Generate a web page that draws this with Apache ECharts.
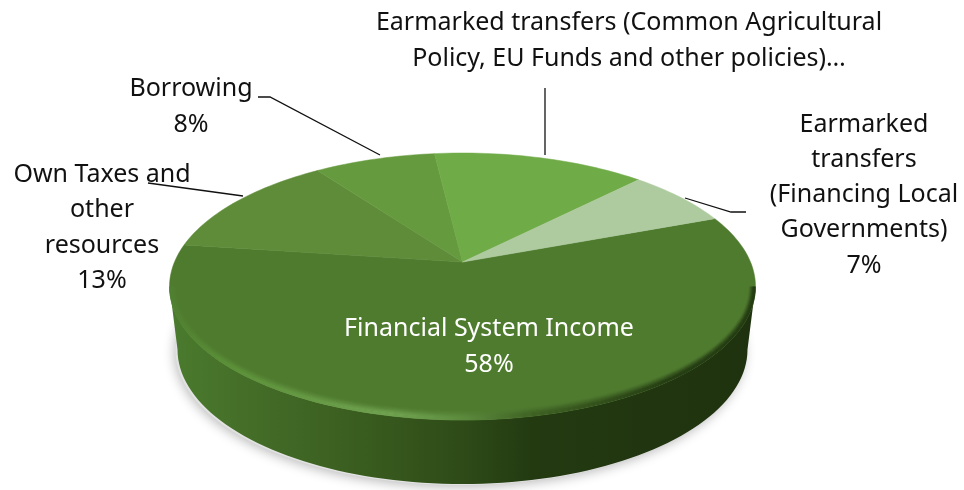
<!DOCTYPE html>
<html><head><meta charset="utf-8">
<style>html,body{margin:0;padding:0;background:#fff}#c{width:964px;height:490px}</style>
<script src="https://cdn.jsdelivr.net/npm/echarts@6/dist/echarts.min.js"></script>
</head><body><div id="c"></div>
<script>
// Data
const categories = ['Financial System Income','Own Taxes and other resources','Borrowing','Earmarked transfers (Common Agricultural Policy, EU Funds and other policies)','Earmarked transfers (Financing Local Governments)'];
const values = [58,13,8,14,7];
const percentLabels = ['58%','13%','8%','','7%'];
const wrappedNames = [
  ['Financial System Income'],
  ['Own Taxes and','other','resources'],
  ['Borrowing'],
  ['Earmarked transfers (Common Agricultural','Policy, EU Funds and other policies)…'],
  ['Earmarked','transfers','(Financing Local','Governments)']
];
// Styles and layout
const sliceColors = ['#4f7b2f','#5e8c39','#669a3e','#6fab46','#aecb9f'];
const labelAnchors = [[489,347,'#ffffff'],[102,228,'#111111'],[191,107,'#111111'],[629,41,'#111111'],[864,195,'#111111']];
const leaders = [null,[[148,183],[243,196]],[[258,97],[270,97],[380,155]],[[545,88],[545,155]],[[685,198],[731,212],[746,212]]];
const FS=25, LH=35.3;
const AX=462.5, AY=262, A=288, B=129, K=0.1837, START=69;

function project(deg){ // perspective view of the pie's circle; apex is the pie centre
  const t=deg*Math.PI/180, u=Math.sin(t), d=-Math.cos(t), w=1-K*d;
  return [AX+A*u/w, AY+B*d/w];
}
const total=values.reduce((s,v)=>s+v,0);
const arcStart=[]; values.reduce((s,v,i)=>{arcStart[i]=s;return s+v;},0);
const toDeg=v=>START+v/total*360;
function arc(d0,d1){const n=Math.max(2,Math.ceil(Math.abs(d1-d0)/1.5)),p=[];for(let i=0;i<=n;i++)p.push(project(d0+(d1-d0)*i/n));return p;}

const CY=AY+(B/(1-K)-B/(1+K))/2, RY=(B/(1-K)+B/(1+K))/2, RX=A/Math.sqrt(1-K*K);
const BCY=CY+63, BRX=RX-8, BRY=RY+1;
function ell(cx,cy,rx,ry,d0,d1){const p=[];for(let a=d0;a<=d1;a+=2){const t=a*Math.PI/180;p.push([cx+rx*Math.sin(t),cy-ry*Math.cos(t)]);}return p;}
const G=(stops,x0,x1)=>new echarts.graphic.LinearGradient(x0,0,x1,0,stops.map((c,i)=>({offset:c[0],color:c[1]})),true);

const rimFill=G([[0,'#4a7b2d'],[0.12,'#456f29'],[0.3,'#3b5f20'],[0.5,'#2e4b18'],[0.62,'#233a11'],[1,'#1f320f']],170,755);
const bevelStops=[[0,'#4f7f30'],[0.1,'#5c9138'],[0.38,'#73a653'],[0.5,'#5d8c3f'],[0.62,'#3d5f22'],[0.85,'#233a11'],[1,'#233a11']];
const bevelRings=[0,1,2,3,4,5,6,7,8,9];

const option={
  animation:false,
  backgroundColor:'#ffffff',
  tooltip:{show:false},
  series:[
    {type:'custom',coordinateSystem:'none',silent:true,z:1,data:[0],
     renderItem(){
       const base=ell(AX,BCY,BRX,BRY,0,360);
       const front=ell(AX,CY,RX,RY,90,270), baseFront=ell(AX,BCY,BRX,BRY,90,270).reverse();
       return {type:'group',children:[
         {type:'polygon',shape:{points:base.map(p=>[p[0]-2,p[1]+1])},style:{fill:'#e2e2e2',shadowBlur:12,shadowColor:'rgba(0,0,0,0.28)',shadowOffsetX:-1,shadowOffsetY:2}},
         {type:'polygon',shape:{points:front.concat(baseFront)},style:{fill:rimFill}}
       ]};
     }},
    {type:'custom',coordinateSystem:'none',silent:true,z:2,
     data:values.map((v,i)=>[i,v]),
     renderItem(params,api){
       const i=api.value(0), d0=toDeg(arcStart[i]), d1=toDeg(arcStart[i]+api.value(1));
       return {type:'polygon',shape:{points:[[AX,AY]].concat(arc(d0,d1))},style:{fill:sliceColors[i],stroke:sliceColors[i],lineWidth:0.5}};
     }},
    {type:'custom',coordinateSystem:'none',silent:true,z:3,data:bevelRings,
     renderItem(params,api){
       const r=api.value(0), ins=r+0.5;
       const pts=ell(AX,CY,RX-ins*0.7,RY-ins,90,270);
       const op=r<3?0.9:0.9*Math.pow(1-(r-2)/8,1.6);
       return {type:'polyline',shape:{points:pts},style:{fill:'none',stroke:G(bevelStops,170,755),lineWidth:1.4,opacity:op}};
     }},
    {type:'custom',coordinateSystem:'none',silent:true,z:4,
     data:values.map((v,i)=>[i]),
     renderItem(params,api){
       const i=api.value(0), lead=leaders[i], a=labelAnchors[i];
       const lines=wrappedNames[i].concat(percentLabels[i]?[percentLabels[i]]:[]);
       const kids=[{type:'text',x:a[0],y:a[1],style:{text:lines.join('\n'),fontFamily:'Noto Sans',fontSize:FS,lineHeight:LH,fill:a[2],align:'center',verticalAlign:'middle'}}];
       if(lead)kids.push({type:'polyline',shape:{points:lead},style:{fill:'none',stroke:'#111',lineWidth:1.3}});
       return {type:'group',children:kids};
     }}
  ]
};
const chart=echarts.init(document.getElementById('c'),null,{renderer:'canvas'});
chart.setOption(option);
</script></body></html>
